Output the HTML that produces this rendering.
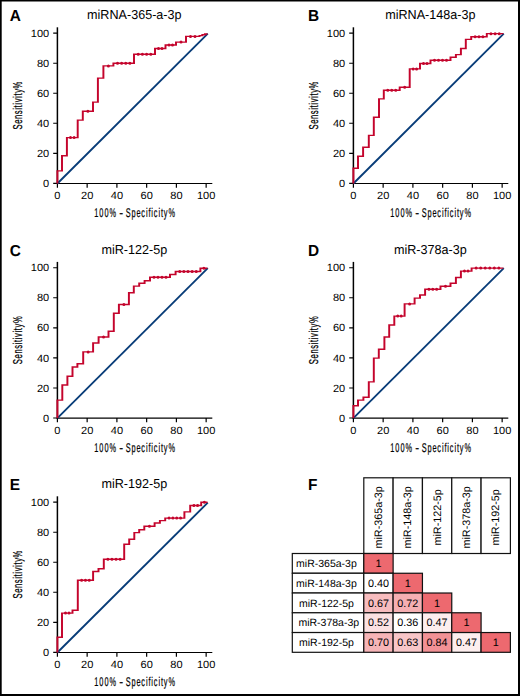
<!DOCTYPE html>
<html><head><meta charset="utf-8"><style>
html,body{margin:0;padding:0;background:#fff;}
#fig{position:relative;width:520px;height:696px;overflow:hidden;background:#fff;}
#fig svg{position:absolute;left:0;top:0;}
text{font-family:"Liberation Sans", sans-serif;fill:#000;text-rendering:geometricPrecision;}
.cn{stroke:#000;stroke-width:0.25px;}
.cx{stroke:#000;stroke-width:0.22px;}
</style></head><body>
<div id="fig">
<svg width="520" height="696" viewBox="0 0 520 696">
<path d="M0 0H520V1.6H0ZM0 0H1.7V696H0ZM518 0H520V696H518ZM0 694H520V696H0Z" fill="#000"/>
<path d="M57.4 27.3V184" fill="none" stroke="#000" stroke-width="1.5"/>
<path d="M56.7 183.5H212.3" fill="none" stroke="#000" stroke-width="1.1"/>
<path d="M53.2 183.4H57.4M53.2 153.35H57.4M53.2 123.3H57.4M53.2 93.25H57.4M53.2 63.2H57.4M53.2 33.15H57.4" fill="none" stroke="#000" stroke-width="1.1"/>
<path d="M57.4 183.5V187.7M87.15 183.5V187.7M116.9 183.5V187.7M146.65 183.5V187.7M176.4 183.5V187.7M206.15 183.5V187.7" fill="none" stroke="#000" stroke-width="1.2"/>
<text transform="translate(49.2 187) scale(1.05 1)" text-anchor="end" font-size="10.5">0</text>
<text transform="translate(57.4 199.4) scale(1.05 1)" text-anchor="middle" font-size="10.5">0</text>
<text transform="translate(49.2 156.95) scale(1.05 1)" text-anchor="end" font-size="10.5">20</text>
<text transform="translate(87.15 199.4) scale(1.05 1)" text-anchor="middle" font-size="10.5">20</text>
<text transform="translate(49.2 126.9) scale(1.05 1)" text-anchor="end" font-size="10.5">40</text>
<text transform="translate(116.9 199.4) scale(1.05 1)" text-anchor="middle" font-size="10.5">40</text>
<text transform="translate(49.2 96.85) scale(1.05 1)" text-anchor="end" font-size="10.5">60</text>
<text transform="translate(146.65 199.4) scale(1.05 1)" text-anchor="middle" font-size="10.5">60</text>
<text transform="translate(49.2 66.8) scale(1.05 1)" text-anchor="end" font-size="10.5">80</text>
<text transform="translate(176.4 199.4) scale(1.05 1)" text-anchor="middle" font-size="10.5">80</text>
<text transform="translate(49.2 36.75) scale(1.05 1)" text-anchor="end" font-size="10.5">100</text>
<text transform="translate(206.15 199.4) scale(1.05 1)" text-anchor="middle" font-size="10.5">100</text>
<path d="M57.4 183.5L207.8 33.6" stroke="#083c78" stroke-width="1.85"/>
<path transform="scale(1 0.7)" d="M57.4 262.14 L57.4 244.07 L62 244.07 L62 222.57 L66.9 222.57 L66.9 196.57 L77.7 196.57 L77.7 171.57 L82.8 171.57 L82.8 159 L93 159 L93 145.86 L97.9 145.86 L97.9 111.57 L103.4 111.57 L103.4 94.14 L113.4 94.14 L113.4 90.43 L134 90.43 L134 77.57 L155 77.57 L155 69.29 L165.5 69.29 L165.5 64.36 L176 64.36 L176 60.1 L186 60.1 L186 52 L199.5 52 L199.5 50.86 L202.3 50.86 L202.3 49.71 L204.9 49.71 L204.9 48.57 L207.5 48.57" fill="none" stroke="#c4042c" stroke-width="1.95" stroke-linejoin="miter" stroke-linecap="butt"/>
<path d="M69 137.6a1.5 1.5 0 1 0 3 0a1.5 1.5 0 1 0 -3 0M72.6 137.6a1.5 1.5 0 1 0 3 0a1.5 1.5 0 1 0 -3 0M86.4 111.3a1.5 1.5 0 1 0 3 0a1.5 1.5 0 1 0 -3 0M106.9 65.9a1.5 1.5 0 1 0 3 0a1.5 1.5 0 1 0 -3 0M116.02 63.3a1.5 1.5 0 1 0 3 0a1.5 1.5 0 1 0 -3 0M120.14 63.3a1.5 1.5 0 1 0 3 0a1.5 1.5 0 1 0 -3 0M124.26 63.3a1.5 1.5 0 1 0 3 0a1.5 1.5 0 1 0 -3 0M128.38 63.3a1.5 1.5 0 1 0 3 0a1.5 1.5 0 1 0 -3 0M136.7 54.3a1.5 1.5 0 1 0 3 0a1.5 1.5 0 1 0 -3 0M140.9 54.3a1.5 1.5 0 1 0 3 0a1.5 1.5 0 1 0 -3 0M145.1 54.3a1.5 1.5 0 1 0 3 0a1.5 1.5 0 1 0 -3 0M149.3 54.3a1.5 1.5 0 1 0 3 0a1.5 1.5 0 1 0 -3 0M157 48.5a1.5 1.5 0 1 0 3 0a1.5 1.5 0 1 0 -3 0M160.5 48.5a1.5 1.5 0 1 0 3 0a1.5 1.5 0 1 0 -3 0M167.5 45.05a1.5 1.5 0 1 0 3 0a1.5 1.5 0 1 0 -3 0M171 45.05a1.5 1.5 0 1 0 3 0a1.5 1.5 0 1 0 -3 0M179.5 42.07a1.5 1.5 0 1 0 3 0a1.5 1.5 0 1 0 -3 0M189 36.4a1.5 1.5 0 1 0 3 0a1.5 1.5 0 1 0 -3 0M193.5 36.4a1.5 1.5 0 1 0 3 0a1.5 1.5 0 1 0 -3 0" fill="#c4042c"/>
<text transform="translate(134.3 18.9) scale(1 1.03)" text-anchor="middle" font-size="12.6">miRNA-365-a-3p</text>
<text transform="translate(94.14 217.4) scale(0.58 1)" font-size="12.7" letter-spacing="1.83" class="cx">100%</text>
<text transform="translate(119.2 217.4) scale(0.91 1)" font-size="12.7" letter-spacing="0" class="cx">-</text>
<text transform="translate(125.63 217.4) scale(0.58 1)" font-size="12.7" letter-spacing="1.51" class="cx">Specificity%</text>
<text transform="translate(22.45 105.3) rotate(-90) scale(0.6 1)" text-anchor="middle" font-size="12.8" letter-spacing="1.0" class="cn">Sensitivity%</text>
<path d="M353.4 27.3V184" fill="none" stroke="#000" stroke-width="1.5"/>
<path d="M352.7 183.5H508.3" fill="none" stroke="#000" stroke-width="1.1"/>
<path d="M349.2 183.4H353.4M349.2 153.35H353.4M349.2 123.3H353.4M349.2 93.25H353.4M349.2 63.2H353.4M349.2 33.15H353.4" fill="none" stroke="#000" stroke-width="1.1"/>
<path d="M353.4 183.5V187.7M383.15 183.5V187.7M412.9 183.5V187.7M442.65 183.5V187.7M472.4 183.5V187.7M502.15 183.5V187.7" fill="none" stroke="#000" stroke-width="1.2"/>
<text transform="translate(345.2 187) scale(1.05 1)" text-anchor="end" font-size="10.5">0</text>
<text transform="translate(353.4 199.4) scale(1.05 1)" text-anchor="middle" font-size="10.5">0</text>
<text transform="translate(345.2 156.95) scale(1.05 1)" text-anchor="end" font-size="10.5">20</text>
<text transform="translate(383.15 199.4) scale(1.05 1)" text-anchor="middle" font-size="10.5">20</text>
<text transform="translate(345.2 126.9) scale(1.05 1)" text-anchor="end" font-size="10.5">40</text>
<text transform="translate(412.9 199.4) scale(1.05 1)" text-anchor="middle" font-size="10.5">40</text>
<text transform="translate(345.2 96.85) scale(1.05 1)" text-anchor="end" font-size="10.5">60</text>
<text transform="translate(442.65 199.4) scale(1.05 1)" text-anchor="middle" font-size="10.5">60</text>
<text transform="translate(345.2 66.8) scale(1.05 1)" text-anchor="end" font-size="10.5">80</text>
<text transform="translate(472.4 199.4) scale(1.05 1)" text-anchor="middle" font-size="10.5">80</text>
<text transform="translate(345.2 36.75) scale(1.05 1)" text-anchor="end" font-size="10.5">100</text>
<text transform="translate(502.15 199.4) scale(1.05 1)" text-anchor="middle" font-size="10.5">100</text>
<path d="M353.4 183.5L503.8 33.6" stroke="#083c78" stroke-width="1.85"/>
<path transform="scale(1 0.7)" d="M353.4 262.14 L353.4 240.29 L358 240.29 L358 223.14 L363.1 223.14 L363.1 210.29 L368.8 210.29 L368.8 193.43 L373.8 193.43 L373.8 167.57 L379 167.57 L379 141.29 L383.8 141.29 L383.8 129 L399.7 129 L399.7 124.57 L409.7 124.57 L409.7 98.43 L420 98.43 L420 90.71 L430.5 90.71 L430.5 86.14 L450.5 86.14 L450.5 81.86 L455.9 81.86 L455.9 78 L460.9 78 L460.9 69.29 L465.8 69.29 L465.8 56.29 L471.2 56.29 L471.2 52.43 L486.8 52.43 L486.8 48.07 L503.4 48.07" fill="none" stroke="#c4042c" stroke-width="1.95" stroke-linejoin="miter" stroke-linecap="butt"/>
<path d="M386.27 90.3a1.5 1.5 0 1 0 3 0a1.5 1.5 0 1 0 -3 0M390.25 90.3a1.5 1.5 0 1 0 3 0a1.5 1.5 0 1 0 -3 0M394.23 90.3a1.5 1.5 0 1 0 3 0a1.5 1.5 0 1 0 -3 0M403.2 87.2a1.5 1.5 0 1 0 3 0a1.5 1.5 0 1 0 -3 0M411.63 68.9a1.5 1.5 0 1 0 3 0a1.5 1.5 0 1 0 -3 0M415.07 68.9a1.5 1.5 0 1 0 3 0a1.5 1.5 0 1 0 -3 0M422 63.5a1.5 1.5 0 1 0 3 0a1.5 1.5 0 1 0 -3 0M425.5 63.5a1.5 1.5 0 1 0 3 0a1.5 1.5 0 1 0 -3 0M433 60.3a1.5 1.5 0 1 0 3 0a1.5 1.5 0 1 0 -3 0M437 60.3a1.5 1.5 0 1 0 3 0a1.5 1.5 0 1 0 -3 0M441 60.3a1.5 1.5 0 1 0 3 0a1.5 1.5 0 1 0 -3 0M445 60.3a1.5 1.5 0 1 0 3 0a1.5 1.5 0 1 0 -3 0M473.6 36.7a1.5 1.5 0 1 0 3 0a1.5 1.5 0 1 0 -3 0M477.5 36.7a1.5 1.5 0 1 0 3 0a1.5 1.5 0 1 0 -3 0M481.4 36.7a1.5 1.5 0 1 0 3 0a1.5 1.5 0 1 0 -3 0M489.45 33.65a1.5 1.5 0 1 0 3 0a1.5 1.5 0 1 0 -3 0M493.6 33.65a1.5 1.5 0 1 0 3 0a1.5 1.5 0 1 0 -3 0M497.75 33.65a1.5 1.5 0 1 0 3 0a1.5 1.5 0 1 0 -3 0" fill="#c4042c"/>
<text transform="translate(430.3 18.9) scale(1 1.03)" text-anchor="middle" font-size="12.6">miRNA-148a-3p</text>
<text transform="translate(390.14 217.4) scale(0.58 1)" font-size="12.7" letter-spacing="1.83" class="cx">100%</text>
<text transform="translate(415.2 217.4) scale(0.91 1)" font-size="12.7" letter-spacing="0" class="cx">-</text>
<text transform="translate(421.63 217.4) scale(0.58 1)" font-size="12.7" letter-spacing="1.51" class="cx">Specificity%</text>
<text transform="translate(318.45 105.3) rotate(-90) scale(0.6 1)" text-anchor="middle" font-size="12.8" letter-spacing="1.0" class="cn">Sensitivity%</text>
<path d="M57.4 261.9V418.6" fill="none" stroke="#000" stroke-width="1.5"/>
<path d="M56.7 418.1H212.3" fill="none" stroke="#000" stroke-width="1.1"/>
<path d="M53.2 418H57.4M53.2 387.95H57.4M53.2 357.9H57.4M53.2 327.85H57.4M53.2 297.8H57.4M53.2 267.75H57.4" fill="none" stroke="#000" stroke-width="1.1"/>
<path d="M57.4 418.1V422.3M87.15 418.1V422.3M116.9 418.1V422.3M146.65 418.1V422.3M176.4 418.1V422.3M206.15 418.1V422.3" fill="none" stroke="#000" stroke-width="1.2"/>
<text transform="translate(49.2 421.6) scale(1.05 1)" text-anchor="end" font-size="10.5">0</text>
<text transform="translate(57.4 434) scale(1.05 1)" text-anchor="middle" font-size="10.5">0</text>
<text transform="translate(49.2 391.55) scale(1.05 1)" text-anchor="end" font-size="10.5">20</text>
<text transform="translate(87.15 434) scale(1.05 1)" text-anchor="middle" font-size="10.5">20</text>
<text transform="translate(49.2 361.5) scale(1.05 1)" text-anchor="end" font-size="10.5">40</text>
<text transform="translate(116.9 434) scale(1.05 1)" text-anchor="middle" font-size="10.5">40</text>
<text transform="translate(49.2 331.45) scale(1.05 1)" text-anchor="end" font-size="10.5">60</text>
<text transform="translate(146.65 434) scale(1.05 1)" text-anchor="middle" font-size="10.5">60</text>
<text transform="translate(49.2 301.4) scale(1.05 1)" text-anchor="end" font-size="10.5">80</text>
<text transform="translate(176.4 434) scale(1.05 1)" text-anchor="middle" font-size="10.5">80</text>
<text transform="translate(49.2 271.35) scale(1.05 1)" text-anchor="end" font-size="10.5">100</text>
<text transform="translate(206.15 434) scale(1.05 1)" text-anchor="middle" font-size="10.5">100</text>
<path d="M57.4 418.1L207.8 268.2" stroke="#083c78" stroke-width="1.85"/>
<path transform="scale(1 0.7)" d="M57.4 597.29 L57.4 571.57 L62.3 571.57 L62.3 550 L67.4 550 L67.4 537.43 L72.5 537.43 L72.5 524.29 L77.4 524.29 L77.4 519.71 L83.2 519.71 L83.2 502.71 L93.1 502.71 L93.1 490 L98.6 490 L98.6 481.43 L108.5 481.43 L108.5 473.14 L113.8 473.14 L113.8 447.43 L118.9 447.43 L118.9 435 L128.9 435 L128.9 418.14 L133.8 418.14 L133.8 408.71 L139.2 408.71 L139.2 404.57 L144.6 404.57 L144.6 401.14 L150 401.14 L150 396 L170 396 L170 392.14 L175.6 392.14 L175.6 387.86 L200.4 387.86 L200.4 383.29 L207.4 383.29" fill="none" stroke="#c4042c" stroke-width="1.95" stroke-linejoin="miter" stroke-linecap="butt"/>
<path d="M86.65 351.9a1.5 1.5 0 1 0 3 0a1.5 1.5 0 1 0 -3 0M102.05 337a1.5 1.5 0 1 0 3 0a1.5 1.5 0 1 0 -3 0M122.4 304.5a1.5 1.5 0 1 0 3 0a1.5 1.5 0 1 0 -3 0M152.5 277.2a1.5 1.5 0 1 0 3 0a1.5 1.5 0 1 0 -3 0M156.5 277.2a1.5 1.5 0 1 0 3 0a1.5 1.5 0 1 0 -3 0M160.5 277.2a1.5 1.5 0 1 0 3 0a1.5 1.5 0 1 0 -3 0M164.5 277.2a1.5 1.5 0 1 0 3 0a1.5 1.5 0 1 0 -3 0M178.23 271.5a1.5 1.5 0 1 0 3 0a1.5 1.5 0 1 0 -3 0M182.37 271.5a1.5 1.5 0 1 0 3 0a1.5 1.5 0 1 0 -3 0M186.5 271.5a1.5 1.5 0 1 0 3 0a1.5 1.5 0 1 0 -3 0M190.63 271.5a1.5 1.5 0 1 0 3 0a1.5 1.5 0 1 0 -3 0M194.77 271.5a1.5 1.5 0 1 0 3 0a1.5 1.5 0 1 0 -3 0M202.4 268.3a1.5 1.5 0 1 0 3 0a1.5 1.5 0 1 0 -3 0" fill="#c4042c"/>
<text transform="translate(134.3 253.5) scale(1 1.03)" text-anchor="middle" font-size="12.6">miR-122-5p</text>
<text transform="translate(94.14 452) scale(0.58 1)" font-size="12.7" letter-spacing="1.83" class="cx">100%</text>
<text transform="translate(119.2 452) scale(0.91 1)" font-size="12.7" letter-spacing="0" class="cx">-</text>
<text transform="translate(125.63 452) scale(0.58 1)" font-size="12.7" letter-spacing="1.51" class="cx">Specificity%</text>
<text transform="translate(22.45 339.9) rotate(-90) scale(0.6 1)" text-anchor="middle" font-size="12.8" letter-spacing="1.0" class="cn">Sensitivity%</text>
<path d="M353.4 261.9V418.6" fill="none" stroke="#000" stroke-width="1.5"/>
<path d="M352.7 418.1H508.3" fill="none" stroke="#000" stroke-width="1.1"/>
<path d="M349.2 418H353.4M349.2 387.95H353.4M349.2 357.9H353.4M349.2 327.85H353.4M349.2 297.8H353.4M349.2 267.75H353.4" fill="none" stroke="#000" stroke-width="1.1"/>
<path d="M353.4 418.1V422.3M383.15 418.1V422.3M412.9 418.1V422.3M442.65 418.1V422.3M472.4 418.1V422.3M502.15 418.1V422.3" fill="none" stroke="#000" stroke-width="1.2"/>
<text transform="translate(345.2 421.6) scale(1.05 1)" text-anchor="end" font-size="10.5">0</text>
<text transform="translate(353.4 434) scale(1.05 1)" text-anchor="middle" font-size="10.5">0</text>
<text transform="translate(345.2 391.55) scale(1.05 1)" text-anchor="end" font-size="10.5">20</text>
<text transform="translate(383.15 434) scale(1.05 1)" text-anchor="middle" font-size="10.5">20</text>
<text transform="translate(345.2 361.5) scale(1.05 1)" text-anchor="end" font-size="10.5">40</text>
<text transform="translate(412.9 434) scale(1.05 1)" text-anchor="middle" font-size="10.5">40</text>
<text transform="translate(345.2 331.45) scale(1.05 1)" text-anchor="end" font-size="10.5">60</text>
<text transform="translate(442.65 434) scale(1.05 1)" text-anchor="middle" font-size="10.5">60</text>
<text transform="translate(345.2 301.4) scale(1.05 1)" text-anchor="end" font-size="10.5">80</text>
<text transform="translate(472.4 434) scale(1.05 1)" text-anchor="middle" font-size="10.5">80</text>
<text transform="translate(345.2 271.35) scale(1.05 1)" text-anchor="end" font-size="10.5">100</text>
<text transform="translate(502.15 434) scale(1.05 1)" text-anchor="middle" font-size="10.5">100</text>
<path d="M353.4 418.1L503.8 268.2" stroke="#083c78" stroke-width="1.85"/>
<path transform="scale(1 0.7)" d="M353.4 597.29 L353.4 579.71 L358 579.71 L358 571.57 L363.4 571.57 L363.4 567.57 L368.8 567.57 L368.8 545.57 L373.8 545.57 L373.8 511.57 L378.8 511.57 L378.8 498.86 L384.4 498.86 L384.4 481.43 L389.2 481.43 L389.2 464.29 L394.3 464.29 L394.3 451.57 L404.6 451.57 L404.6 434.14 L414.6 434.14 L414.6 425.86 L420 425.86 L420 421.43 L425.1 421.43 L425.1 413.29 L440.5 413.29 L440.5 409 L450.5 409 L450.5 404.71 L455.9 404.71 L455.9 396.43 L460.9 396.43 L460.9 387.29 L471.6 387.29 L471.6 383 L503.4 383" fill="none" stroke="#c4042c" stroke-width="1.95" stroke-linejoin="miter" stroke-linecap="butt"/>
<path d="M396.23 316.1a1.5 1.5 0 1 0 3 0a1.5 1.5 0 1 0 -3 0M399.67 316.1a1.5 1.5 0 1 0 3 0a1.5 1.5 0 1 0 -3 0M408.1 303.9a1.5 1.5 0 1 0 3 0a1.5 1.5 0 1 0 -3 0M427.45 289.3a1.5 1.5 0 1 0 3 0a1.5 1.5 0 1 0 -3 0M431.3 289.3a1.5 1.5 0 1 0 3 0a1.5 1.5 0 1 0 -3 0M435.15 289.3a1.5 1.5 0 1 0 3 0a1.5 1.5 0 1 0 -3 0M444 286.3a1.5 1.5 0 1 0 3 0a1.5 1.5 0 1 0 -3 0M462.97 271.1a1.5 1.5 0 1 0 3 0a1.5 1.5 0 1 0 -3 0M466.53 271.1a1.5 1.5 0 1 0 3 0a1.5 1.5 0 1 0 -3 0M474.64 268.1a1.5 1.5 0 1 0 3 0a1.5 1.5 0 1 0 -3 0M479.19 268.1a1.5 1.5 0 1 0 3 0a1.5 1.5 0 1 0 -3 0M483.73 268.1a1.5 1.5 0 1 0 3 0a1.5 1.5 0 1 0 -3 0M488.27 268.1a1.5 1.5 0 1 0 3 0a1.5 1.5 0 1 0 -3 0M492.81 268.1a1.5 1.5 0 1 0 3 0a1.5 1.5 0 1 0 -3 0M497.36 268.1a1.5 1.5 0 1 0 3 0a1.5 1.5 0 1 0 -3 0" fill="#c4042c"/>
<text transform="translate(430.3 253.5) scale(1 1.03)" text-anchor="middle" font-size="12.6">miR-378a-3p</text>
<text transform="translate(390.14 452) scale(0.58 1)" font-size="12.7" letter-spacing="1.83" class="cx">100%</text>
<text transform="translate(415.2 452) scale(0.91 1)" font-size="12.7" letter-spacing="0" class="cx">-</text>
<text transform="translate(421.63 452) scale(0.58 1)" font-size="12.7" letter-spacing="1.51" class="cx">Specificity%</text>
<text transform="translate(318.45 339.9) rotate(-90) scale(0.6 1)" text-anchor="middle" font-size="12.8" letter-spacing="1.0" class="cn">Sensitivity%</text>
<path d="M57.4 496.3V653" fill="none" stroke="#000" stroke-width="1.5"/>
<path d="M56.7 652.5H212.3" fill="none" stroke="#000" stroke-width="1.1"/>
<path d="M53.2 652.4H57.4M53.2 622.35H57.4M53.2 592.3H57.4M53.2 562.25H57.4M53.2 532.2H57.4M53.2 502.15H57.4" fill="none" stroke="#000" stroke-width="1.1"/>
<path d="M57.4 652.5V656.7M87.15 652.5V656.7M116.9 652.5V656.7M146.65 652.5V656.7M176.4 652.5V656.7M206.15 652.5V656.7" fill="none" stroke="#000" stroke-width="1.2"/>
<text transform="translate(49.2 656) scale(1.05 1)" text-anchor="end" font-size="10.5">0</text>
<text transform="translate(57.4 668.4) scale(1.05 1)" text-anchor="middle" font-size="10.5">0</text>
<text transform="translate(49.2 625.95) scale(1.05 1)" text-anchor="end" font-size="10.5">20</text>
<text transform="translate(87.15 668.4) scale(1.05 1)" text-anchor="middle" font-size="10.5">20</text>
<text transform="translate(49.2 595.9) scale(1.05 1)" text-anchor="end" font-size="10.5">40</text>
<text transform="translate(116.9 668.4) scale(1.05 1)" text-anchor="middle" font-size="10.5">40</text>
<text transform="translate(49.2 565.85) scale(1.05 1)" text-anchor="end" font-size="10.5">60</text>
<text transform="translate(146.65 668.4) scale(1.05 1)" text-anchor="middle" font-size="10.5">60</text>
<text transform="translate(49.2 535.8) scale(1.05 1)" text-anchor="end" font-size="10.5">80</text>
<text transform="translate(176.4 668.4) scale(1.05 1)" text-anchor="middle" font-size="10.5">80</text>
<text transform="translate(49.2 505.75) scale(1.05 1)" text-anchor="end" font-size="10.5">100</text>
<text transform="translate(206.15 668.4) scale(1.05 1)" text-anchor="middle" font-size="10.5">100</text>
<path d="M57.4 652.5L207.8 502.6" stroke="#083c78" stroke-width="1.85"/>
<path transform="scale(1 0.7)" d="M57.4 932.14 L57.4 910.29 L62 910.29 L62 875.86 L72.5 875.86 L72.5 871.86 L77.8 871.86 L77.8 829 L93.1 829 L93.1 816.43 L98.5 816.43 L98.5 812.57 L103.8 812.57 L103.8 798.86 L124.2 798.86 L124.2 777.43 L129.2 777.43 L129.2 770.29 L134.3 770.29 L134.3 760.86 L139.2 760.86 L139.2 756.71 L144.3 756.71 L144.3 751.71 L154.6 751.71 L154.6 747.14 L159.9 747.14 L159.9 743.71 L165.2 743.71 L165.2 740.14 L184.4 740.14 L184.4 731.29 L190.2 731.29 L190.2 722.14 L201.2 722.14 L201.2 717.57 L207.5 717.57" fill="none" stroke="#c4042c" stroke-width="1.95" stroke-linejoin="miter" stroke-linecap="butt"/>
<path d="M64 613.1a1.5 1.5 0 1 0 3 0a1.5 1.5 0 1 0 -3 0M67.5 613.1a1.5 1.5 0 1 0 3 0a1.5 1.5 0 1 0 -3 0M80.12 580.3a1.5 1.5 0 1 0 3 0a1.5 1.5 0 1 0 -3 0M83.95 580.3a1.5 1.5 0 1 0 3 0a1.5 1.5 0 1 0 -3 0M87.77 580.3a1.5 1.5 0 1 0 3 0a1.5 1.5 0 1 0 -3 0M106.38 559.2a1.5 1.5 0 1 0 3 0a1.5 1.5 0 1 0 -3 0M110.46 559.2a1.5 1.5 0 1 0 3 0a1.5 1.5 0 1 0 -3 0M114.54 559.2a1.5 1.5 0 1 0 3 0a1.5 1.5 0 1 0 -3 0M118.62 559.2a1.5 1.5 0 1 0 3 0a1.5 1.5 0 1 0 -3 0M147.95 526.2a1.5 1.5 0 1 0 3 0a1.5 1.5 0 1 0 -3 0M167.54 518.1a1.5 1.5 0 1 0 3 0a1.5 1.5 0 1 0 -3 0M171.38 518.1a1.5 1.5 0 1 0 3 0a1.5 1.5 0 1 0 -3 0M175.22 518.1a1.5 1.5 0 1 0 3 0a1.5 1.5 0 1 0 -3 0M179.06 518.1a1.5 1.5 0 1 0 3 0a1.5 1.5 0 1 0 -3 0M192.37 505.5a1.5 1.5 0 1 0 3 0a1.5 1.5 0 1 0 -3 0M196.03 505.5a1.5 1.5 0 1 0 3 0a1.5 1.5 0 1 0 -3 0M202.85 502.3a1.5 1.5 0 1 0 3 0a1.5 1.5 0 1 0 -3 0" fill="#c4042c"/>
<text transform="translate(134.3 487.9) scale(1 1.03)" text-anchor="middle" font-size="12.6">miR-192-5p</text>
<text transform="translate(94.14 686.4) scale(0.58 1)" font-size="12.7" letter-spacing="1.83" class="cx">100%</text>
<text transform="translate(119.2 686.4) scale(0.91 1)" font-size="12.7" letter-spacing="0" class="cx">-</text>
<text transform="translate(125.63 686.4) scale(0.58 1)" font-size="12.7" letter-spacing="1.51" class="cx">Specificity%</text>
<text transform="translate(22.45 574.3) rotate(-90) scale(0.6 1)" text-anchor="middle" font-size="12.8" letter-spacing="1.0" class="cn">Sensitivity%</text>
<text transform="translate(9.7 21.1) scale(0.97 1)" font-size="15.9" font-weight="bold">A</text>
<text transform="translate(307.95 21.1) scale(0.97 1)" font-size="15.9" font-weight="bold">B</text>
<text transform="translate(9.7 255.8) scale(0.97 1)" font-size="15.9" font-weight="bold">C</text>
<text transform="translate(307.95 255.8) scale(0.97 1)" font-size="15.9" font-weight="bold">D</text>
<text transform="translate(9.7 490.3) scale(0.97 1)" font-size="15.9" font-weight="bold">E</text>
<text transform="translate(307.95 490.3) scale(0.97 1)" font-size="15.9" font-weight="bold">F</text>
<rect x="363.8" y="477.8" width="29.32" height="75.7" fill="#fff" stroke="#111" stroke-width="1.2"/>
<text transform="translate(382.16 517.35) rotate(-90)" text-anchor="middle" font-size="10.8">miR-365a-3p</text>
<rect x="393.12" y="477.8" width="29.32" height="75.7" fill="#fff" stroke="#111" stroke-width="1.2"/>
<text transform="translate(411.48 517.35) rotate(-90)" text-anchor="middle" font-size="10.8">miR-148a-3p</text>
<rect x="422.44" y="477.8" width="29.32" height="75.7" fill="#fff" stroke="#111" stroke-width="1.2"/>
<text transform="translate(440.8 517.35) rotate(-90)" text-anchor="middle" font-size="10.8">miR-122-5p</text>
<rect x="451.76" y="477.8" width="29.32" height="75.7" fill="#fff" stroke="#111" stroke-width="1.2"/>
<text transform="translate(470.12 517.35) rotate(-90)" text-anchor="middle" font-size="10.8">miR-378a-3p</text>
<rect x="481.08" y="477.8" width="29.32" height="75.7" fill="#fff" stroke="#111" stroke-width="1.2"/>
<text transform="translate(499.44 517.35) rotate(-90)" text-anchor="middle" font-size="10.8">miR-192-5p</text>
<rect x="292.3" y="553.5" width="71.5" height="19.76" fill="#fff" stroke="#111" stroke-width="1.2"/>
<text x="326.45" y="567.08" text-anchor="middle" font-size="10.5">miR-365a-3p</text>
<rect x="363.8" y="553.5" width="29.32" height="19.76" fill="rgb(237,105,111)" stroke="#111" stroke-width="1.2"/>
<text x="378.46" y="567.08" text-anchor="middle" font-size="10.8">1</text>
<rect x="292.3" y="573.26" width="71.5" height="19.76" fill="#fff" stroke="#111" stroke-width="1.2"/>
<text x="326.45" y="586.84" text-anchor="middle" font-size="10.5">miR-148a-3p</text>
<rect x="363.8" y="573.26" width="29.32" height="19.76" fill="rgb(255,255,255)" stroke="#111" stroke-width="1.2"/>
<text x="378.46" y="586.84" text-anchor="middle" font-size="10.8">0.40</text>
<rect x="393.12" y="573.26" width="29.32" height="19.76" fill="rgb(237,105,111)" stroke="#111" stroke-width="1.2"/>
<text x="407.78" y="586.84" text-anchor="middle" font-size="10.8">1</text>
<rect x="292.3" y="593.02" width="71.5" height="19.76" fill="#fff" stroke="#111" stroke-width="1.2"/>
<text x="326.45" y="606.6" text-anchor="middle" font-size="10.5">miR-122-5p</text>
<rect x="363.8" y="593.02" width="29.32" height="19.76" fill="rgb(247,188,190)" stroke="#111" stroke-width="1.2"/>
<text x="378.46" y="606.6" text-anchor="middle" font-size="10.8">0.67</text>
<rect x="393.12" y="593.02" width="29.32" height="19.76" fill="rgb(245,175,178)" stroke="#111" stroke-width="1.2"/>
<text x="407.78" y="606.6" text-anchor="middle" font-size="10.8">0.72</text>
<rect x="422.44" y="593.02" width="29.32" height="19.76" fill="rgb(237,105,111)" stroke="#111" stroke-width="1.2"/>
<text x="437.1" y="606.6" text-anchor="middle" font-size="10.8">1</text>
<rect x="292.3" y="612.78" width="71.5" height="19.76" fill="#fff" stroke="#111" stroke-width="1.2"/>
<text x="328.75" y="626.36" text-anchor="middle" font-size="10.5">miR-378a-3p</text>
<rect x="363.8" y="612.78" width="29.32" height="19.76" fill="rgb(251,225,226)" stroke="#111" stroke-width="1.2"/>
<text x="378.46" y="626.36" text-anchor="middle" font-size="10.8">0.52</text>
<rect x="393.12" y="612.78" width="29.32" height="19.76" fill="rgb(255,255,255)" stroke="#111" stroke-width="1.2"/>
<text x="407.78" y="626.36" text-anchor="middle" font-size="10.8">0.36</text>
<rect x="422.44" y="612.78" width="29.32" height="19.76" fill="rgb(253,238,238)" stroke="#111" stroke-width="1.2"/>
<text x="437.1" y="626.36" text-anchor="middle" font-size="10.8">0.47</text>
<rect x="451.76" y="612.78" width="29.32" height="19.76" fill="rgb(237,105,111)" stroke="#111" stroke-width="1.2"/>
<text x="466.42" y="626.36" text-anchor="middle" font-size="10.8">1</text>
<rect x="292.3" y="632.54" width="71.5" height="19.76" fill="#fff" stroke="#111" stroke-width="1.2"/>
<text x="326.45" y="646.12" text-anchor="middle" font-size="10.5">miR-192-5p</text>
<rect x="363.8" y="632.54" width="29.32" height="19.76" fill="rgb(246,180,183)" stroke="#111" stroke-width="1.2"/>
<text x="378.46" y="646.12" text-anchor="middle" font-size="10.8">0.70</text>
<rect x="393.12" y="632.54" width="29.32" height="19.76" fill="rgb(248,198,200)" stroke="#111" stroke-width="1.2"/>
<text x="407.78" y="646.12" text-anchor="middle" font-size="10.8">0.63</text>
<rect x="422.44" y="632.54" width="29.32" height="19.76" fill="rgb(242,145,149)" stroke="#111" stroke-width="1.2"/>
<text x="437.1" y="646.12" text-anchor="middle" font-size="10.8">0.84</text>
<rect x="451.76" y="632.54" width="29.32" height="19.76" fill="rgb(253,238,238)" stroke="#111" stroke-width="1.2"/>
<text x="466.42" y="646.12" text-anchor="middle" font-size="10.8">0.47</text>
<rect x="481.08" y="632.54" width="29.32" height="19.76" fill="rgb(237,105,111)" stroke="#111" stroke-width="1.2"/>
<text x="495.74" y="646.12" text-anchor="middle" font-size="10.8">1</text>
</svg>
</div>
</body></html>
